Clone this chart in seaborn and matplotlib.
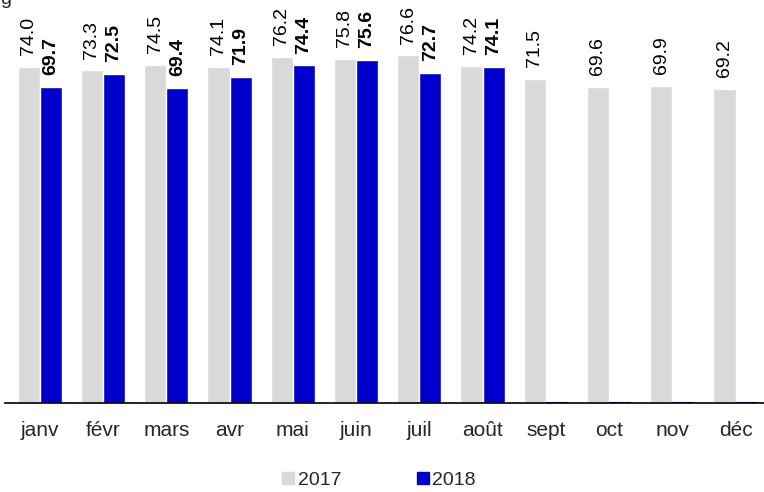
import pandas as pd
import matplotlib
matplotlib.use("Agg")
import matplotlib.pyplot as plt
import seaborn as sns

mois = ["janv", "févr", "mars", "avr", "mai", "juin", "juil", "août", "sept", "oct", "nov", "déc"]
v2017 = [74.0, 73.3, 74.5, 74.1, 76.2, 75.8, 76.6, 74.2, 71.5, 69.6, 69.9, 69.2]
v2018 = [69.7, 72.5, 69.4, 71.9, 74.4, 75.6, 72.7, 74.1, 0, 0, 0, 0]
annees = ["2017", "2018"]
couleurs = ["#D9D9D9", "#0000CC"]

df = pd.DataFrame({
    "mois": mois * 2,
    "val": v2017 + v2018,
    "annee": ["2017"] * 12 + ["2018"] * 12,
})

sns.set_style("white")
plt.rcParams["font.family"] = ["Liberation Sans", "DejaVu Sans"]

fig = plt.figure(figsize=(7.64, 4.92), dpi=100)
ax = fig.add_axes([5 / 764, 89 / 492, 759 / 764, 403 / 492])

sns.barplot(data=df, x="mois", y="val", hue="annee", palette=couleurs,
            width=0.7, ax=ax, legend=False, saturation=1)

# etiquettes
for cont, vals, poids in zip(ax.containers, [v2017, v2018], ["normal", "bold"]):
    for bar, v in zip(cont, vals):
        if v == 0:
            # trait bleu au niveau de l'axe
            bar.set_edgecolor(couleurs[1])
            bar.set_linewidth(1.5)
            continue
        ax.text(bar.get_x() + bar.get_width() / 2, v + 2.6, f"{v:.1f}",
                rotation=90, ha="center", va="bottom", fontsize=14,
                fontweight=poids, color="black")

ax.set_ylim(0, 88.8)
ax.set_xlim(-0.55, 11.45)
ax.set_xlabel("")
ax.set_ylabel("")
ax.set_yticks([])
for s in ["top", "left", "right"]:
    ax.spines[s].set_visible(False)
ax.spines["bottom"].set_color("black")
ax.spines["bottom"].set_linewidth(1.2)
ax.spines["bottom"].set_zorder(5)
ax.tick_params(axis="x", length=0, pad=13, labelsize=15)

handles = [plt.Line2D([], [], marker="s", linestyle="", markersize=9,
                      markerfacecolor=c, markeredgecolor=c) for c in couleurs]
fig.legend(handles, annees, loc="center", bbox_to_anchor=(378 / 764, 1 - 480 / 492),
           ncol=2, frameon=False, fontsize=14, handletextpad=0.1,
           columnspacing=3.8, handlelength=0.8, borderpad=0.2)

fig.text(0.0, 1.0, "g", fontsize=14, ha="left", va="center")

fig.savefig("out.png", dpi=100)
